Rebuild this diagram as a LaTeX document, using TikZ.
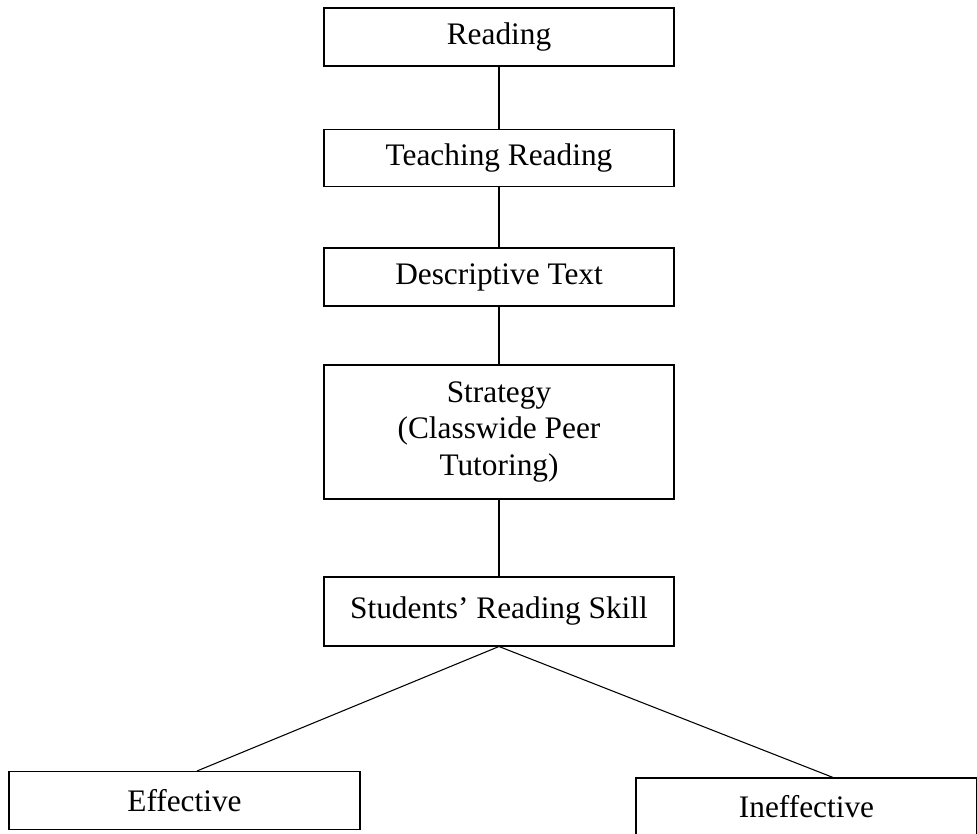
\documentclass[tikz,border=0pt]{standalone}
\usepackage{fontspec}
\setmainfont{Liberation Serif}
\begin{document}
\begin{tikzpicture}[x=0.75pt,y=-0.75pt,auto,
main box/.style = {rectangle,draw,line width=0.8pt,inner sep=0pt,minimum width=262.5pt,align=center,font=\fontsize{23.5}{27.4}\selectfont}]
\useasboundingbox (0,0) rectangle (977,834);

\node [main box, minimum height=43.5pt] (reading) at (499,37) {Reading};
\node [main box, minimum height=42.75pt, node distance=91.1pt, below of = reading] (teaching) {Teaching Reading};
\node [main box, minimum height=43.5pt, node distance=88.9pt, below of = teaching] (descriptive) {Descriptive Text};
\node [main box, minimum height=100.5pt, node distance=116.25pt, below of = descriptive] (strategy) {Strategy\\(Classwide Peer\\Tutoring)};
\node [main box, minimum height=51.75pt, node distance=134.6pt, below of = strategy] (skill) {Students’ Reading Skill};
\node [main box, minimum width=263.25pt, minimum height=43.5pt] (effective) at (184.5,800.5) {Effective};
\node [main box, minimum width=255.75pt, minimum height=42.75pt] (ineffective) at (806.5,806.5) {Ineffective};

\path[-, line width=0.8pt]
(reading) edge (teaching)
(teaching) edge (descriptive)
(descriptive) edge (strategy)
(strategy) edge (skill)
(skill.south) edge ([xshift=9.4pt]effective.north)
(skill.south) edge ([xshift=19.9pt]ineffective.north);
\end{tikzpicture}
\end{document}
